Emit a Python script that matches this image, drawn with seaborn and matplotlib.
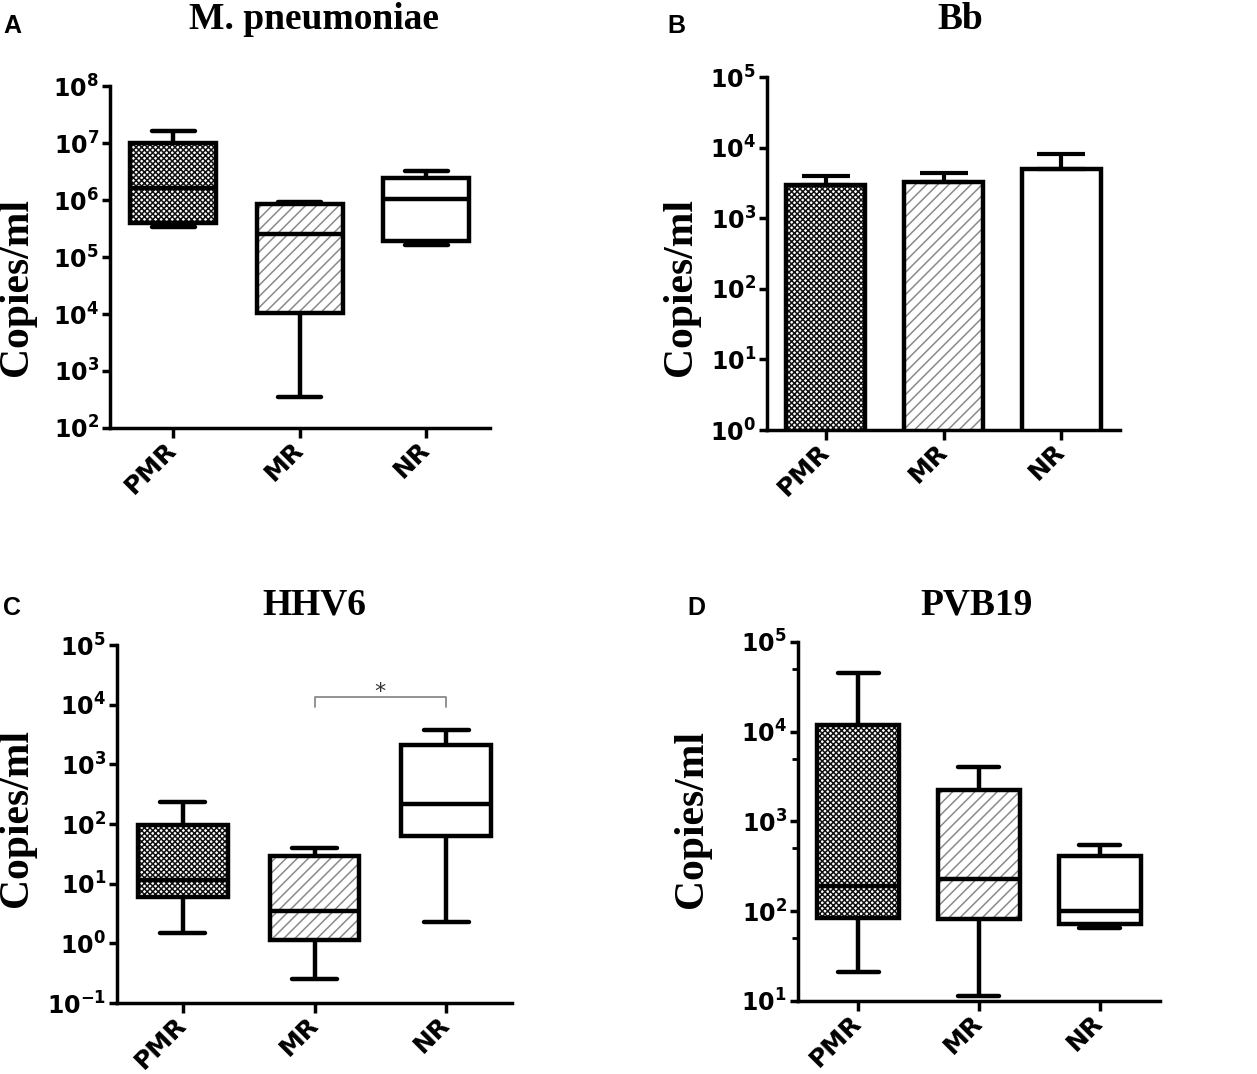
import matplotlib
matplotlib.use("Agg")
import matplotlib.pyplot as plt
import matplotlib.ticker as mticker
import matplotlib.colors as mcolors
import seaborn as sns
import pandas as pd
import numpy as np

groups = ["PMR", "MR", "NR"]

# five-number summaries: min, q1, median, q3, max
mp_pmr = [3.4e5, 4.0e5, 1.6e6, 1.0e7, 1.6e7]
mp_mr = [3.5e2, 1.05e4, 2.5e5, 8.5e5, 9.3e5]
mp_nr = [1.6e5, 1.9e5, 1.05e6, 2.4e6, 3.2e6]

# Bb: bar height and top of the error bar
bb_mean = [3000, 3250, 5000]
bb_upper = [4000, 4400, 8100]

hhv6_pmr = [1.5, 6.0, 11.5, 96, 235]
hhv6_mr = [0.25, 1.15, 3.5, 29, 40]
hhv6_nr = [2.3, 63, 215, 2100, 3800]

pvb_pmr = [21, 83, 190, 11800, 45000]
pvb_mr = [11.5, 81, 230, 2250, 4000]
pvb_nr = [65, 72, 100, 415, 540]

sns.set_style("ticks")
plt.rcParams.update({
    "font.family": ["DejaVu Sans"],
    "font.weight": "bold",
    "mathtext.fontset": "dejavusans",
    "mathtext.default": "bf",
    "hatch.linewidth": 1.1,
    "axes.linewidth": 2.5,
    "axes.edgecolor": "black",
    "text.color": "black",
    "axes.labelcolor": "black",
    "xtick.color": "black",
    "ytick.color": "black",
})

# fill colour, hatch, hatch colour per group
fills = {"PMR": ("white", "xxxxxx", "#111111"),
         "MR": ("white", "///", "#8a8a8a"),
         "NR": ("white", "", "black")}

fig = plt.figure(figsize=(12.57, 10.74), dpi=100)
axA = fig.add_axes([0.0875, 0.6015, 0.302, 0.3184])
axB = fig.add_axes([0.6102, 0.5996, 0.2808, 0.3287])
axC = fig.add_axes([0.0931, 0.0661, 0.3142, 0.3333])
axD = fig.add_axes([0.6348, 0.0680, 0.2880, 0.3343])


def style_patches(ax):
    for patch, g in zip(ax.patches, groups):
        fc, hatch, hc = fills[g]
        patch.set_facecolor(fc)
        patch.set_edgecolor("black")
        patch.set_hatch(hatch)
        patch._hatch_color = mcolors.to_rgba(hc)  # hatch colour separate from edge


def finish_axis(ax, lo, hi, minor=None):
    ax.set_ylim(10.0 ** lo, 10.0 ** hi)
    ax.set_xlim(-0.5, 2.5)
    ax.yaxis.set_major_locator(mticker.FixedLocator([10.0 ** k for k in range(lo, hi + 1)]))
    ax.yaxis.set_major_formatter(mticker.LogFormatterSciNotation())
    if minor:
        ax.yaxis.set_minor_locator(mticker.FixedLocator(minor))
    else:
        ax.yaxis.set_minor_locator(mticker.NullLocator())
    ax.set_xlabel("")
    ax.set_ylabel("")
    sns.despine(ax=ax)
    ax.tick_params(axis="y", which="major", length=6, width=2.5, labelsize=17, pad=2,
                   labelcolor="black")
    ax.tick_params(axis="y", which="minor", length=4, width=2)
    ax.tick_params(axis="x", length=7, width=2.5, labelsize=18, pad=6,
                   labelcolor="black")
    for lab in ax.get_xticklabels():
        lab.set_rotation(45)
        lab.set_ha("right")
        lab.set_va("center")
        lab.set_rotation_mode("anchor")
        lab.set_fontweight("bold")


def box_panel(ax, pmr, mr, nr):
    df = pd.DataFrame({"group": np.repeat(groups, 5),
                       "copies": np.concatenate([pmr, mr, nr])})
    sns.boxplot(data=df, x="group", y="copies", order=groups, whis=(0, 100),
                width=0.68, color="white", linecolor="black", linewidth=3.2,
                showfliers=False, log_scale=True, ax=ax)
    style_patches(ax)


box_panel(axA, mp_pmr, mp_mr, mp_nr)
finish_axis(axA, 2, 8)

axB.set_yscale("log")
bdf = pd.DataFrame({"group": groups, "copies": bb_mean})
sns.barplot(data=bdf, x="group", y="copies", order=groups, color="white",
            edgecolor="black", linewidth=3.2, width=0.67, errorbar=None, ax=axB)
style_patches(axB)
axB.errorbar(range(3), bb_mean,
             yerr=[np.zeros(3), np.array(bb_upper) - np.array(bb_mean)],
             fmt="none", ecolor="black", elinewidth=3, capsize=17, capthick=3,
             zorder=1)
finish_axis(axB, 0, 5)

box_panel(axC, hhv6_pmr, hhv6_mr, hhv6_nr)
finish_axis(axC, -1, 5)
axC.plot([1, 1, 2, 2], [9.0e3, 1.35e4, 1.35e4, 9.0e3], color="#8a8a8a", lw=1.3)
axC.text(1.5, 1.3e4, "*", ha="center", va="baseline", fontsize=16,
         fontweight="normal", color="#333333")

box_panel(axD, pvb_pmr, pvb_mr, pvb_nr)
finish_axis(axD, 1, 5, minor=[50, 500, 5000, 50000])

serif = ["Liberation Serif", "DejaVu Serif"]
titles = [("M. pneumoniae", 0.2498, 0.973), ("Bb", 0.7637, 0.973),
          ("HHV6", 0.2498, 0.4274), ("PVB19", 0.7772, 0.4274)]
for t, x, y in titles:
    fig.text(x, y, t, ha="center", va="baseline", family=serif,
             fontweight="bold", fontsize=27, color="black")

for x, y in [(0.0135, 0.7328), (0.5418, 0.7328), (0.0135, 0.2384), (0.5505, 0.2374)]:
    fig.text(x, y, "Copies/ml", rotation=90, ha="center", va="center",
             family=serif, fontweight="bold", fontsize=30, color="black")

for letter, x, y in [("A", 0.0024, 0.9693), ("B", 0.5306, 0.9693),
                     ("C", 0.0024, 0.4274), ("D", 0.5465, 0.4274)]:
    fig.text(x, y, letter, ha="left", va="baseline", family=["Liberation Sans"],
             fontweight="bold", fontsize=18, color="black")

fig.savefig("out.png", dpi=100)
plt.close(fig)
